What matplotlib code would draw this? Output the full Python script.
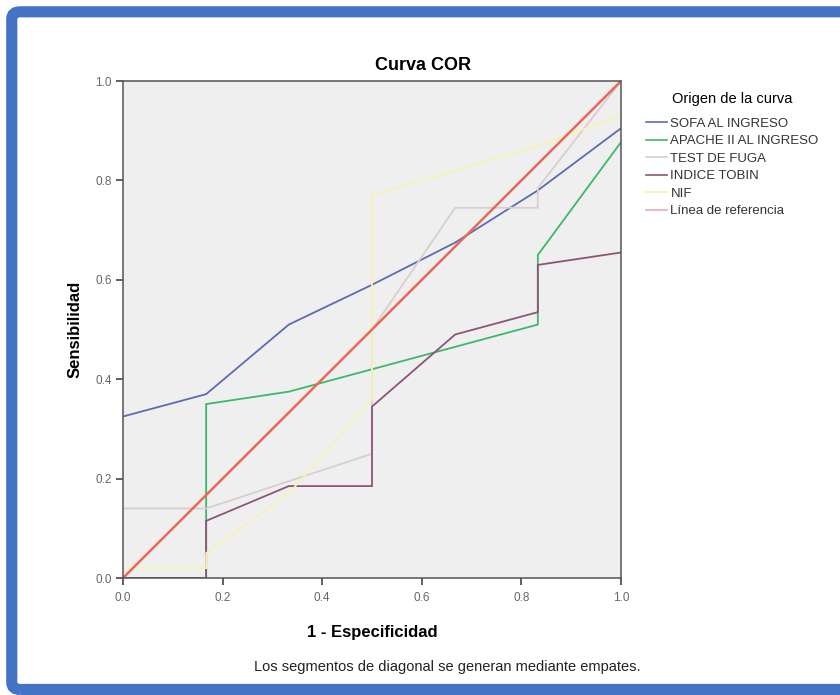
import matplotlib
matplotlib.use("Agg")
import matplotlib.pyplot as plt
from matplotlib.lines import Line2D
from matplotlib.patches import FancyBboxPatch

plt.rcParams["font.family"] = ["Liberation Sans", "DejaVu Sans"]

# ROC curves (x = 1 - especificidad, y = sensibilidad)
sofa_x = [0.0, 0.167, 0.333, 0.5, 0.667, 0.833, 1.0]
sofa_y = [0.325, 0.37, 0.51, 0.59, 0.675, 0.78, 0.905]

apache_x = [0.0, 0.167, 0.167, 0.333, 0.833, 0.833, 1.0]
apache_y = [0.0, 0.0, 0.35, 0.375, 0.51, 0.65, 0.877]

fuga_x = [0.0, 0.167, 0.5, 0.5, 0.667, 0.833, 0.833, 1.0]
fuga_y = [0.14, 0.14, 0.25, 0.5, 0.745, 0.745, 0.785, 1.0]

tobin_x = [0.0, 0.167, 0.167, 0.333, 0.5, 0.5, 0.667, 0.833, 0.833, 1.0]
tobin_y = [0.0, 0.0, 0.115, 0.185, 0.185, 0.345, 0.49, 0.535, 0.63, 0.655]

nif_x = [0.0, 0.167, 0.167, 0.333, 0.5, 0.5, 0.667, 0.833, 1.0]
nif_y = [0.02, 0.02, 0.05, 0.17, 0.36, 0.77, 0.82, 0.87, 0.93]

ref_x = [0.0, 1.0]
ref_y = [0.0, 1.0]

labels = ["SOFA AL INGRESO", "APACHE II AL INGRESO", "TEST DE FUGA",
          "INDICE TOBIN", "NIF", "Línea de referencia"]
colors = ["#5b6db0", "#3db86a", "#dacece", "#8e5478", "#f6f2b4", "#e8695a"]
legend_colors = colors[:5] + ["#e6a8c8"]

fig = plt.figure(figsize=(8.4, 6.95), dpi=100)

# blue frame around the whole output
frame = FancyBboxPatch((0.014, 0.008), 1.02, 0.975, boxstyle="round,pad=0,rounding_size=0.01",
                       transform=fig.transFigure, facecolor="none", edgecolor="#4472c4",
                       linewidth=8, clip_on=False, zorder=5)
fig.patches.append(frame)

ax = fig.add_axes([0.1464, 0.1683, 0.5929, 0.7151])
ax.set_facecolor("#efefef")

series = [(sofa_x, sofa_y), (apache_x, apache_y), (fuga_x, fuga_y),
          (tobin_x, tobin_y), (nif_x, nif_y), (ref_x, ref_y)]
for (xs, ys), c in zip(series, colors):
    ax.plot(xs, ys, color=c, linewidth=1.3 if c != colors[5] else 1.8,
            solid_joinstyle="miter")

ax.set_xlim(0, 1)
ax.set_ylim(0, 1)
ax.set_xticks([0, 0.2, 0.4, 0.6, 0.8, 1.0])
ax.set_yticks([0, 0.2, 0.4, 0.6, 0.8, 1.0])
ax.set_xticklabels(["0.0", "0.2", "0.4", "0.6", "0.8", "1.0"])
ax.set_yticklabels(["0.0", "0.2", "0.4", "0.6", "0.8", "1.0"])
ax.tick_params(axis="both", direction="out", length=5, width=1.2, colors="#444444",
               labelsize=8.5, labelcolor="#666666", pad=3)
ax.tick_params(axis="x", pad=5)
for s in ax.spines.values():
    s.set_color("#555555")
    s.set_linewidth(1.1)

fig.text(0.504, 0.906, "Curva COR", fontsize=13, fontweight="bold", ha="center", va="center")
ax.set_xlabel("1 - Especificidad", fontsize=12, fontweight="bold", labelpad=15)
ax.set_ylabel("Sensibilidad", fontsize=12, fontweight="bold", labelpad=9)

handles = [Line2D([0], [0], color=c, linewidth=1.2) for c in legend_colors]
leg = fig.legend(handles, labels, title="Origen de la curva", loc="upper left",
                 bbox_to_anchor=(0.755, 0.884), frameon=False, fontsize=9.5,
                 title_fontsize=10.5, handlelength=1.6, handletextpad=0.25,
                 labelspacing=0.4, alignment="center")
leg._legend_box.sep = 8
for t in leg.get_texts():
    t.set_color("#333333")

fig.text(0.532, 0.04, "Los segmentos de diagonal se generan mediante empates.",
         ha="center", va="center", fontsize=10.5, color="#222222")

fig.savefig("out.png", dpi=100)
